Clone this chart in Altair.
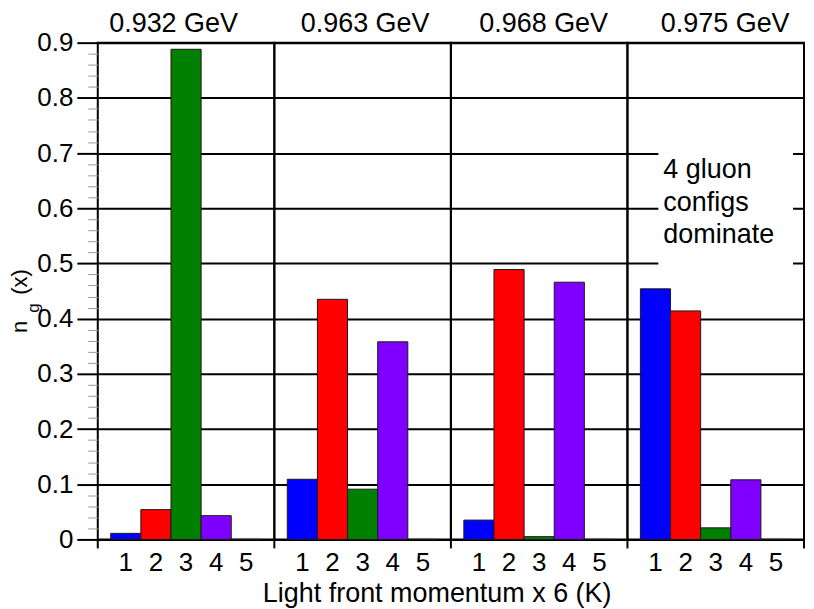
import altair as alt
import pandas as pd

# ---- data ----
panels = ["0.932 GeV", "0.963 GeV", "0.968 GeV", "0.975 GeV"]
momenta = [1, 2, 3, 4, 5]
n_932 = [0.011, 0.054, 0.888, 0.043, 0.0]
n_963 = [0.109, 0.435, 0.091, 0.358, 0.0]
n_968 = [0.035, 0.489, 0.005, 0.466, 0.0]
n_975 = [0.454, 0.414, 0.021, 0.108, 0.0]
series = [n_932, n_963, n_968, n_975]
bar_colors = ["#0000ff", "#ff0000", "#008000", "#8000ff", "#ffffff"]
y_ticks = [round(i * 0.02, 2) for i in range(46)]
y_major = [round(i * 0.1, 1) for i in range(10)]
note_lines = ["4 gluon", "configs", "dominate"]
x_title = "Light front momentum x 6 (K)"

FONT = "Liberation Sans"
W, H = 177, 498
header_dx = [-12.5, 2.5, 4.5, 9.5]
major = "round(datum.value * 50) % 5 === 0"

yaxis_main = alt.Axis(
    values=y_ticks, title=None, domain=False, labelOverlap=False,
    labelExpr="round(datum.value * 50) % 5 === 0 ? (datum.value === 0 ? '0' : format(datum.value, '.1f')) : ''",
    labelFontSize=26, labelFont=FONT, labelColor="black", labelPadding=4,
    tickSize={"condition": {"test": major, "value": 21}, "value": 10},
    tickColor={"condition": {"test": major, "value": "black"}, "value": "#999999"},
    tickWidth={"condition": {"test": major, "value": 2}, "value": 1},
    grid=True, gridColor="black", gridWidth=2,
    gridOpacity={"condition": {"test": major, "value": 1}, "value": 0},
)
yaxis_other = alt.Axis(values=y_major, title=None, domain=False, labels=False, ticks=False,
                       grid=True, gridColor="black", gridWidth=2)

xaxis = alt.Axis(title=None, ticks=False, domain=False, labelAngle=0,
                 labelFontSize=26, labelFont=FONT, labelColor="black",
                 labelPadding=10, grid=False)


def panel(i):
    df = pd.DataFrame({"k": momenta, "n": series[i]})
    base = alt.Chart(df)
    one = base.transform_filter("datum.k === 1")
    layers = []
    if i == 3:
        layers.append(one.mark_rect(color="white").encode(
            x=alt.value(31), x2=alt.value(166), y=alt.value(70), y2=alt.value(265)))
    layers.append(base.mark_bar(stroke="#1a1a1a", strokeWidth=1).encode(
        x=alt.X("k:O", scale=alt.Scale(paddingInner=0, paddingOuter=0.43), axis=xaxis),
        y=alt.Y("n:Q", scale=alt.Scale(domain=[0, 0.9], nice=False),
                axis=yaxis_main if i == 0 else yaxis_other),
        color=alt.Color("k:O", scale=alt.Scale(domain=momenta, range=bar_colors), legend=None),
    ))
    layers.append(one.mark_rule(color="black", strokeWidth=2).encode(
        x=alt.value(0), y=alt.value(H), y2=alt.value(H + 9)))
    # panel header
    layers.append(one.mark_text(
        text=panels[i], fontSize=27, font=FONT, color="black", align="center",
        baseline="top").encode(x=alt.value(W / 2 + header_dx[i]), y=alt.value(-32)))
    if i == 3:
        layers.append(one.mark_rule(color="black", strokeWidth=2).encode(
            x=alt.value(W), y=alt.value(H), y2=alt.value(H + 9)))
        layers.append(one.mark_text(
            text=note_lines, fontSize=27, font=FONT, color="black", align="left",
            baseline="top", lineHeight=32.5).encode(x=alt.value(36), y=alt.value(115)))
    if i == 0:
        layers.append(one.mark_text(
            text="n", angle=270, fontSize=22, font=FONT, color="black", align="center",
            baseline="alphabetic").encode(x=alt.value(-70.5), y=alt.value(285)))
        layers.append(one.mark_text(
            text="g", angle=270, fontSize=17, font=FONT, color="black", align="center",
            baseline="alphabetic").encode(x=alt.value(-58.5), y=alt.value(266)))
        layers.append(one.mark_text(
            text="(x)", angle=270, fontSize=22, font=FONT, color="black", align="center",
            baseline="alphabetic").encode(x=alt.value(-70.5), y=alt.value(240)))
    return alt.layer(*layers).properties(width=W, height=H)


chart = alt.hconcat(*[panel(i) for i in range(4)], spacing=0, bounds="flush").properties(
    title=alt.TitleParams(x_title, orient="bottom", anchor="middle",
                          fontSize=27, font=FONT, fontWeight="normal", color="black",
                          offset=5, dx=30),
    padding=0,
).configure(font=FONT).configure_view(stroke="black", strokeWidth=2)

chart.save("out.html", embed_options={"renderer": "svg", "actions": False})
